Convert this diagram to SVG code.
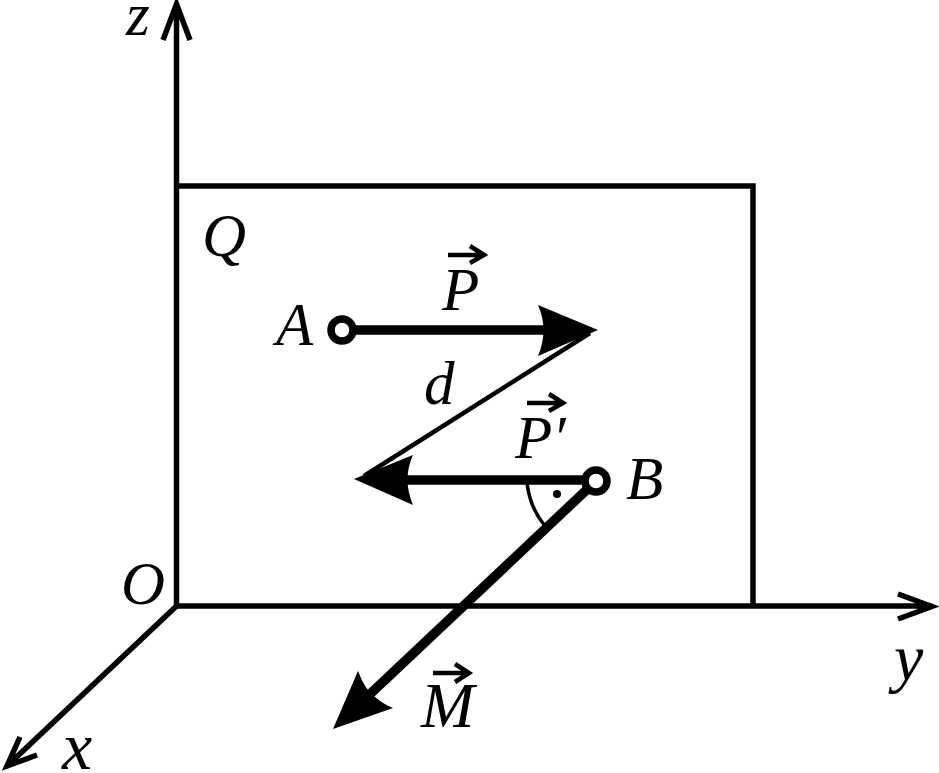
<svg xmlns="http://www.w3.org/2000/svg" width="939" height="773" viewBox="0 0 939 773">
<style>
text{font-family:"Liberation Serif","Times New Roman",serif;font-style:italic;font-size:61px;fill:#000}
.ax{fill:none;stroke:#000;stroke-width:5.5}
.th{fill:none;stroke:#000;stroke-width:9.5}
.hd{fill:#000;stroke:none}
.va{fill:none;stroke:#000;stroke-width:4.5}
.pt{fill:#fff;stroke:#000;stroke-width:7.5}
</style>
<rect width="939" height="773" fill="#fff"/>
<g id="connectors">
<path class="ax" d="M176.500 606V6M163 40L176.500 4L190 40"/>
<path class="ax" d="M176.500 606H932M898 594L932 606.500L898 619"/>
<path class="ax" d="M176.500 606L6 767M20 737L7 766L37 755"/>
<path class="ax" d="M176.500 186H753V606"/>
<path d="M590 333L364 476" fill="none" stroke="#000" stroke-width="4.500"/>
<path class="th" d="M342 330H550"/>
<path class="hd" d="M598 330L538 305Q549 330 538 356Z"/>
<path class="th" d="M596 480H400"/>
<path class="hd" d="M354 479L413 455Q402 479 413 505Z"/>
<path class="th" d="M596 481L368 696"/>
<path class="hd" d="M333 729L358 671Q365 690 375 697Q383 704 393 708Z"/>
<path d="M527 483Q530 508 545 526" fill="none" stroke="#000" stroke-width="3.500"/>
<circle cx="557" cy="494" r="4" fill="#000"/>
</g>
<g id="node-A"><circle class="pt" cx="342" cy="330" r="11"/><text x="276" y="345">A</text></g>
<g id="node-B"><circle class="pt" cx="596" cy="481" r="11"/><text x="626" y="499">B</text></g>
<g id="label-z"><text x="126" y="35">z</text></g>
<g id="label-y"><text x="894" y="680" style="font-size:66px">y</text></g>
<g id="label-x"><text x="62" y="769" style="font-size:68px">x</text></g>
<g id="label-O"><text x="121" y="604">O</text></g>
<g id="label-Q"><text x="202" y="256">Q</text></g>
<g id="label-d"><text x="424" y="404">d</text></g>
<g id="label-P"><path class="va" d="M448 255H484M470 246L484 255L470 263"/><text x="442" y="310">P</text></g>
<g id="label-P-prime"><path class="va" d="M527 403H563M549 394L563 403L549 411"/><text x="515" y="458">P′</text></g>
<g id="label-M"><path class="va" d="M433 673H469M455 664L469 673L455 682"/><text x="421" y="727" style="font-size:64px">M</text></g>
</svg>
